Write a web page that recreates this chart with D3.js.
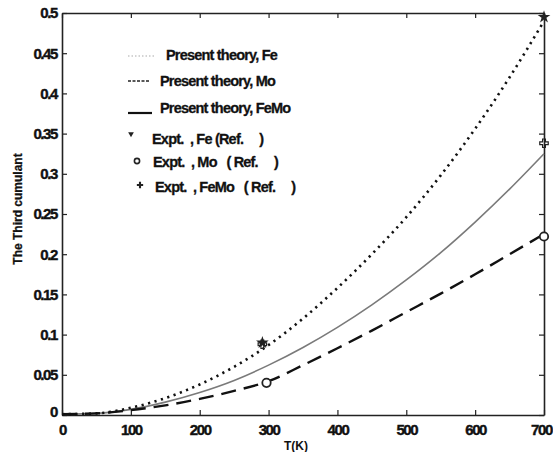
<!DOCTYPE html>
<html>
<head>
<meta charset="utf-8">
<script src="https://cdn.jsdelivr.net/npm/d3@7"></script>
<style>
  body { margin: 0; background: #fff; }
  text { font-family: "Liberation Sans", Arial, sans-serif; font-weight: bold; fill: #111; }
</style>
</head>
<body>
<div id="chart"></div>
<script>
// values
var temps = [0, 50, 100, 150, 200, 250, 300, 350, 400, 450, 500, 550, 600, 650, 700];
var fe    = [0.001, 0.002, 0.009, 0.021, 0.038, 0.060, 0.087, 0.120, 0.158, 0.200, 0.246, 0.298, 0.356, 0.420, 0.490];
var mo    = [0.001, 0.002, 0.006, 0.012, 0.020, 0.030, 0.042, 0.062, 0.083, 0.105, 0.128, 0.151, 0.175, 0.200, 0.225];
var femo  = [0.001, 0.002, 0.007, 0.016, 0.028, 0.043, 0.062, 0.084, 0.109, 0.137, 0.168, 0.202, 0.240, 0.281, 0.325];

var exptFe   = [[291, 0.090], [700, 0.495]];
var exptMo   = [[297, 0.040], [700, 0.222]];
var exptFeMo = [[291, 0.088], [700, 0.338]];

var xTicks = [0, 100, 200, 300, 400, 500, 600, 700];
var yTicks = [0, 0.05, 0.1, 0.15, 0.2, 0.25, 0.3, 0.35, 0.4, 0.45, 0.5];
var yTickLabels = ["0", "0.05", "0.1", "0.15", "0.2", "0.25", "0.3", "0.35", "0.4", "0.45", "0.5"];

var NB = "\u00a0";
var legendItems = [
  {label: "Present theory, Fe", kind: "dot"},
  {label: "Present theory, Mo", kind: "dash"},
  {label: "Present theory, FeMo", kind: "solid"},
  {label: "Expt." + NB + " , Fe (Ref." + NB + NB + NB + NB + " )", kind: "star"},
  {label: "Expt." + NB + " , Mo" + NB + NB + " ( Ref." + NB + NB + NB + NB + " )", kind: "circle"},
  {label: "Expt." + NB + " , FeMo" + NB + NB + " ( Ref." + NB + NB + NB + NB + " )", kind: "plus"}
];

var W = 553, H = 452;
var margin = {top: 13, right: 9, bottom: 37, left: 62};
var width = W - margin.left - margin.right;
var height = H - margin.top - margin.bottom;

var xScale = d3.scaleLinear().domain([0, 700]).range([0, width]);
var yScale = d3.scaleLinear().domain([0, 0.5]).range([height, 0]);

var svg = d3.select("#chart").append("svg")
    .attr("width", W)
    .attr("height", H);

var g = svg.append("g")
    .attr("transform", "translate(" + margin.left + "," + margin.top + ")");

// axes, matlab style: ticks pointing inward, on all four sides
var xAxis = d3.axisBottom(xScale).tickValues(xTicks).tickSizeInner(-5).tickSizeOuter(0).tickPadding(9);
var yAxis = d3.axisLeft(yScale).tickValues(yTicks).tickSizeInner(-5).tickSizeOuter(0).tickPadding(5)
    .tickFormat(function(d, i) { return yTickLabels[i]; });

var gx = g.append("g").attr("transform", "translate(0," + height + ")").call(xAxis);
var gy = g.append("g").call(yAxis);
g.append("g").call(d3.axisTop(xScale).tickValues(xTicks).tickSizeInner(-5).tickSizeOuter(0).tickFormat(""));
g.append("g").attr("transform", "translate(" + width + ",0)")
    .call(d3.axisRight(yScale).tickValues(yTicks).tickSizeInner(-5).tickSizeOuter(0).tickFormat(""));

g.selectAll(".domain").attr("stroke", "#222").attr("stroke-width", 1.6);
g.selectAll(".tick line").attr("stroke", "#222").attr("stroke-width", 1.2);
g.selectAll(".tick text")
    .style("font-size", "15px").style("letter-spacing", "-1.4px")
    .attr("fill", "#111").attr("stroke", "#111").attr("stroke-width", 0.4);

gx.selectAll(".tick text").attr("dx", function(d) { return d == 700 ? "-3px" : 0; });
gy.selectAll(".tick text").attr("dy", function(d) { return d == 0 ? "0.1em" : "0.32em"; });

// curves
var line = d3.line()
    .x(function(d) { return xScale(d[0]); })
    .y(function(d) { return yScale(d[1]); })
    .curve(d3.curveMonotoneX);

function pairs(vals) {
  return temps.map(function(t, i) { return [t, vals[i]]; });
}

g.append("path").datum(pairs(femo))
    .attr("d", line).attr("fill", "none")
    .attr("stroke", "#7a7a7a").attr("stroke-width", 1.6);

g.append("path").datum(pairs(mo))
    .attr("d", line).attr("fill", "none")
    .attr("stroke", "#111").attr("stroke-width", 2.4)
    .attr("stroke-dasharray", "15,8");

g.append("path").datum(pairs(fe))
    .attr("d", line).attr("fill", "none")
    .attr("stroke", "#111").attr("stroke-width", 2.6)
    .attr("stroke-dasharray", "2.2,4.5");

// experimental points
var star = d3.symbol().type(d3.symbolStar).size(50);

g.selectAll(".pt-fe").data(exptFe).enter().append("path")
    .attr("transform", function(d) { return "translate(" + xScale(d[0]) + "," + yScale(d[1]) + ")"; })
    .attr("d", star).attr("fill", "#222");

g.selectAll(".pt-femo").data(exptFeMo).enter().append("path")
    .attr("transform", function(d) { return "translate(" + xScale(d[0]) + "," + yScale(d[1]) + ")"; })
    .attr("d", d3.symbol().type(d3.symbolCross).size(40)).attr("fill", "none")
    .attr("stroke", "#222").attr("stroke-width", 1.2);

g.selectAll(".pt-mo").data(exptMo).enter().append("circle")
    .attr("cx", function(d) { return xScale(d[0]); })
    .attr("cy", function(d) { return yScale(d[1]); })
    .attr("r", 4.2).attr("fill", "#fff")
    .attr("stroke", "#222").attr("stroke-width", 1.8);

// legend (no box)
var legendY = [55, 81, 108, 139, 162, 187];
var legendX = [166, 160, 160, 152, 153, 155];
var lg = svg.append("g");
legendItems.forEach(function(item, i) {
  var y = legendY[i];
  if (item.kind == "dot") {
    lg.append("line").attr("x1", 128).attr("x2", 155).attr("y1", y + 1).attr("y2", y + 1)
      .attr("stroke", "#aaa").attr("stroke-width", 1.2).attr("stroke-dasharray", "1.5,2");
  } else if (item.kind == "dash") {
    lg.append("line").attr("x1", 128).attr("x2", 150).attr("y1", y).attr("y2", y)
      .attr("stroke", "#222").attr("stroke-width", 1.6).attr("stroke-dasharray", "3,1.5");
  } else if (item.kind == "solid") {
    lg.append("line").attr("x1", 128).attr("x2", 152).attr("y1", y + 5).attr("y2", y + 5)
      .attr("stroke", "#111").attr("stroke-width", 2.2);
  } else if (item.kind == "star") {
    lg.append("path")
      .attr("d", d3.symbol().type(d3.symbolTriangle).size(14)).attr("fill", "#222")
      .attr("transform", "translate(131," + (y - 5) + ") rotate(180)");
  } else if (item.kind == "circle") {
    lg.append("circle").attr("cx", 137).attr("cy", y - 1).attr("r", 2.6)
      .attr("fill", "none").attr("stroke", "#222").attr("stroke-width", 1.6);
  } else if (item.kind == "plus") {
    lg.append("path").attr("transform", "translate(140," + (y - 2) + ")")
      .attr("d", d3.symbol().type(d3.symbolCross).size(22)).attr("fill", "#222");
  }
  lg.append("text").attr("x", legendX[i]).attr("y", y + 5)
    .style("font-size", "14.5px").style("letter-spacing", "-0.8px")
    .attr("stroke", "#111").attr("stroke-width", 0.3)
    .text(item.label);
});

// axis titles
svg.append("text")
    .attr("transform", "translate(22," + (margin.top + height / 2 - 5) + ") rotate(-90)")
    .attr("text-anchor", "middle")
    .style("font-size", "12px")
    .attr("stroke", "#111").attr("stroke-width", 0.3)
    .text("The Third cumulant");

svg.append("text")
    .attr("x", 296).attr("y", 450)
    .attr("text-anchor", "middle")
    .style("font-size", "12px")
    .text("T(K)");
</script>
</body>
</html>
